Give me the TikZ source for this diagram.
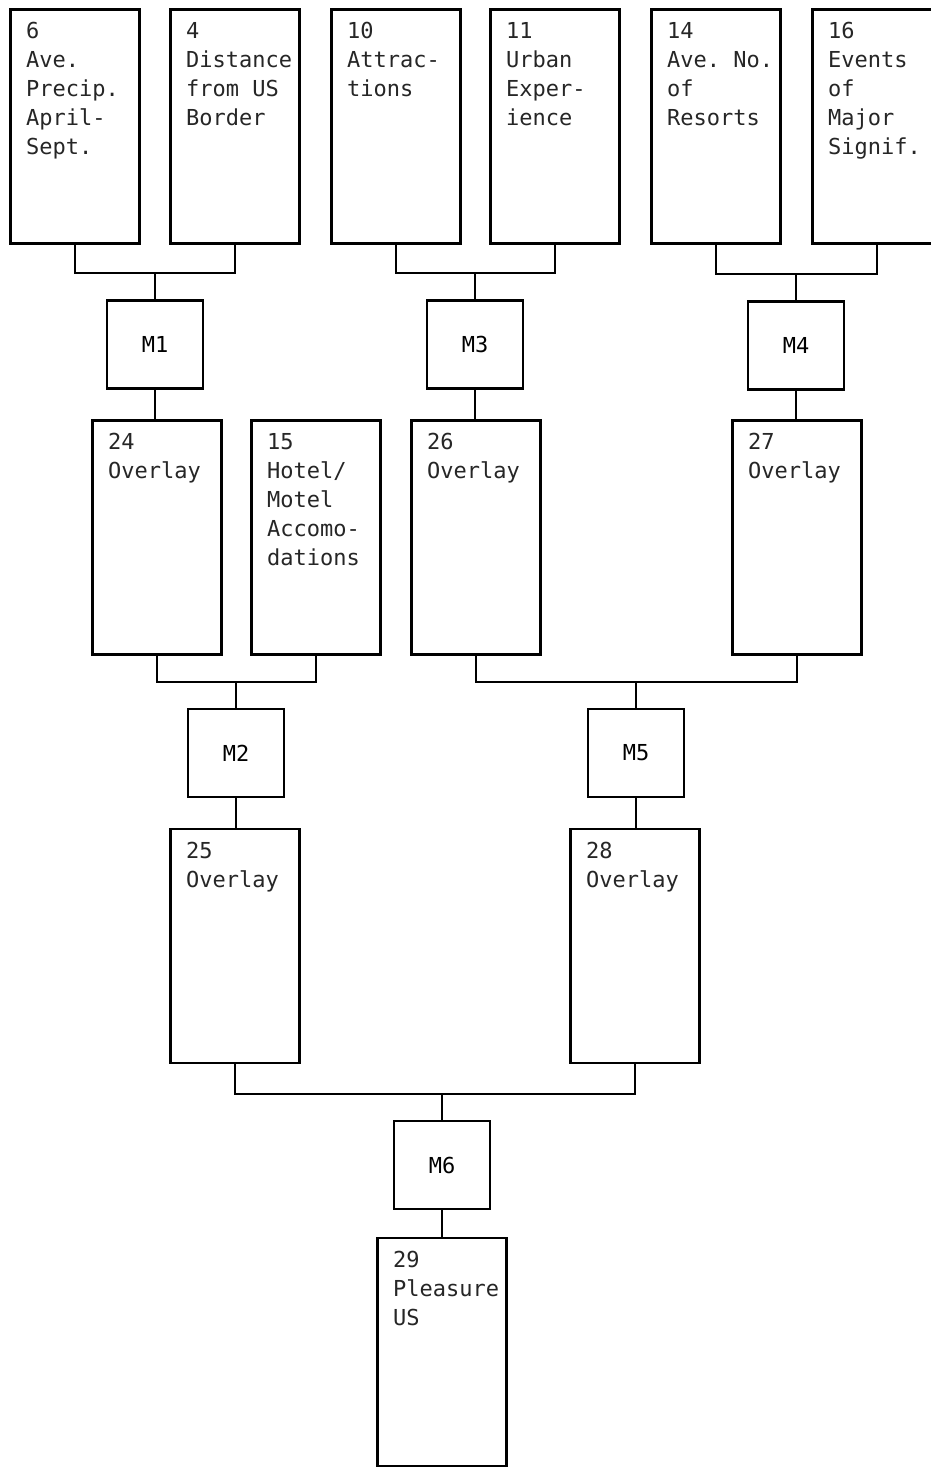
\documentclass[tikz,border=0pt]{standalone}
\usepackage{fontspec}
\usepackage{tikz}
\newfontfamily\typefont{DejaVu Sans Mono}
\frenchspacing

\tikzset{
    card/.style={draw, line width=1.4pt, minimum width=64.5pt, minimum height=117pt, inner sep=0pt},
    mixer/.style={draw, line width=1.4pt, minimum width=48pt, minimum height=44pt, inner sep=0pt,
        font=\typefont\fontsize{11}{12}\selectfont},
    cardtext/.style={anchor=north west, align=left, inner sep=0pt, xshift=8.3pt, yshift=-7pt,
        text=black!85, font=\typefont\fontsize{11}{14.5}\selectfont},
    link/.style={line width=0.9pt}
}

\begin{document}
\begin{tikzpicture}[x=0.5pt, y=-0.5pt]
    % Page frame
    \fill[white] (0,0) rectangle (931,1469);
    \useasboundingbox (0,0) rectangle (931,1469);

    % Input maps
    \node[card, label={[cardtext]north west:6\\Ave.\\Precip.\\April-\\Sept.}] (c6) at (75,126.5) {};
    \node[card, label={[cardtext]north west:4\\Distance\\from US\\Border}] (c4) at (235,126.5) {};
    \node[card, label={[cardtext]north west:10\\Attrac-\\tions}] (c10) at (396,126.5) {};
    \node[card, label={[cardtext]north west:11\\Urban\\Exper-\\ience}] (c11) at (555,126.5) {};
    \node[card, label={[cardtext]north west:14\\Ave. No.\\of\\Resorts}] (c14) at (716,126.5) {};
    \node[card, label={[cardtext]north west:16\\Events\\of\\Major\\Signif.}] (c16) at (877,126.5) {};

    % First merges
    \node[mixer] (m1) at (155,344.5) {M1};
    \node[mixer] (m3) at (475,344.5) {M3};
    \node[mixer] (m4) at (796,345.5) {M4};

    % Second row
    \node[card, label={[cardtext]north west:24\\Overlay}] (o24) at (157,537.5) {};
    \node[card, label={[cardtext]north west:15\\Hotel/\\Motel\\Accomo-\\dations}] (c15) at (316,537.5) {};
    \node[card, label={[cardtext]north west:26\\Overlay}] (o26) at (476,537.5) {};
    \node[card, label={[cardtext]north west:27\\Overlay}] (o27) at (797,537.5) {};

    \node[mixer] (m2) at (236,753) {M2};
    \node[mixer] (m5) at (636,753) {M5};

    % Third row
    \node[card, label={[cardtext]north west:25\\Overlay}] (o25) at (235,946) {};
    \node[card, label={[cardtext]north west:28\\Overlay}] (o28) at (635,946) {};

    \node[mixer] (m6) at (442,1165) {M6};

    % Result
    \node[card, minimum height=114pt, label={[cardtext]north west:29\\Pleasure\\US}] (o29) at (442,1352) {};

    % Brackets into each merge
    \foreach \a/\b/\m in {c6/c4/m1, c10/c11/m3, c14/c16/m4, o24/c15/m2, o26/o27/m5, o25/o28/m6} {
        \draw[link] (\m.north) -- ++(0,-26) coordinate (j);
        \draw[link] (\a.south) |- (j) -| (\b.south);
    }

    % Merge outputs
    \foreach \m/\o in {m1/o24, m3/o26, m4/o27, m2/o25, m5/o28, m6/o29}
        \draw[link] (\m.south) -- (\m.south |- \o.north);
\end{tikzpicture}
\end{document}
